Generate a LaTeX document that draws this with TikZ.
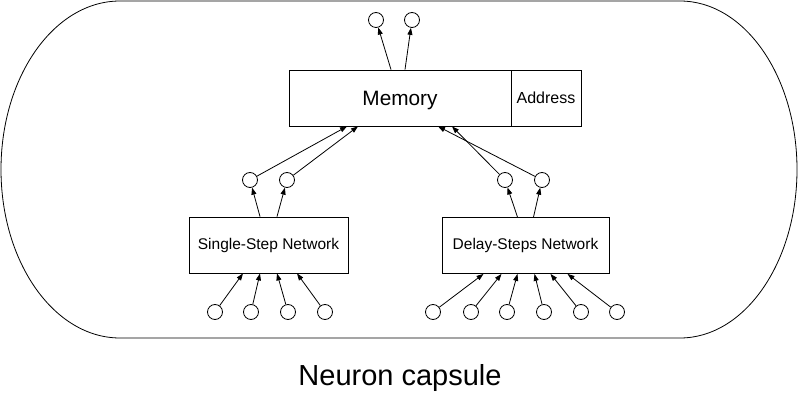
\documentclass[tikz,border=0pt]{standalone}
\usepackage{fontspec}
\setmainfont{Liberation Sans}
\usetikzlibrary{arrows.meta}
\tikzset{
  unit/.style={draw, circle, minimum size=15pt, inner sep=0pt},
  netbox/.style={draw, rectangle, minimum width=159pt, minimum height=56pt, inner sep=0pt, font=\fontsize{15.5}{17}\selectfont},
  arr/.style={-{Triangle[length=7pt,width=5pt]}, line width=0.8pt},
}
\begin{document}
\begin{tikzpicture}[x=1pt,y=-1pt,line width=0.8pt]
\useasboundingbox (0,0) rectangle (798,403);

% capsule
\draw (120,1) -- (680,1) arc[start angle=-90, end angle=90, x radius=117, y radius=168.5]
      -- (120,338) arc[start angle=90, end angle=270, x radius=119, y radius=168.5] -- cycle;
\node (cap) at (400,378) {\fontsize{29}{32}\selectfont Neuron capsule};

% memory
\node[draw, minimum width=222pt, minimum height=56pt, inner sep=0pt, text depth=0pt] (mem) at (400,98) {\fontsize{20.8}{22}\selectfont Memory};
\node[draw, minimum width=70pt, minimum height=56pt, inner sep=0pt, font=\fontsize{16}{18}\selectfont] (addr) at (546,98) {Address};

\node[unit] (o1) at (376,20) {};
\node[unit] (o2) at (412,20) {};
\draw[arr] ([xshift=-9pt]mem.north) -- (o1);
\draw[arr] ([xshift=5pt]mem.north) -- (o2);

% networks
\node[netbox] (ssn) at (268.5,245) {Single-Step Network};
\node[netbox, minimum width=167pt] (dsn) at (525.5,245.5) {Delay-Steps Network};

\node[unit] (s1) at (250,180) {};
\node[unit] (s2) at (287,180) {};
\node[unit] (d1) at (505,180) {};
\node[unit] (d2) at (542,180) {};

\draw[arr] ([xshift=-8.5pt]ssn.north) -- (s1);
\draw[arr] ([xshift=8.5pt]ssn.north) -- (s2);
\draw[arr] ([xshift=-8pt]dsn.north) -- (d1);
\draw[arr] ([xshift=8pt]dsn.north) -- (d2);

\draw[arr] (s1) -- ([xshift=-53pt]mem.south);
\draw[arr] (s2) -- ([xshift=-42pt]mem.south);
\draw[arr] (d1) -- ([xshift=52pt]mem.south);
\draw[arr] (d2) -- ([xshift=38pt]mem.south);

% inputs
\foreach \x/\dx [count=\i] in {215/-25.5, 251/-8.5, 288/8.5, 325/28.5} {
  \node[unit] (si\i) at (\x,312) {};
  \draw[arr] (si\i) -- ([xshift=\dx pt]ssn.south);
}
\foreach \x/\dx [count=\i] in {433/-42, 471/-24, 507/-8, 544/9, 581/25, 617/42} {
  \node[unit] (di\i) at (\x,312) {};
  \draw[arr] (di\i) -- ([xshift=\dx pt]dsn.south);
}

\end{tikzpicture}
\end{document}
